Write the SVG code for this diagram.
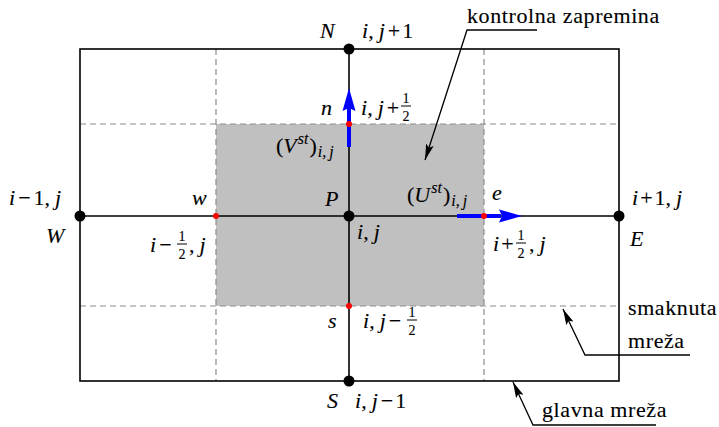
<svg xmlns="http://www.w3.org/2000/svg" width="719" height="427" viewBox="0 0 719 427" font-family="Liberation Serif, Times New Roman, serif">
<defs>
<style>
text{font-family:"Liberation Serif","Times New Roman",serif;font-size:22px;fill:#000;stroke:#000;stroke-width:0.12}
.it{font-style:italic}
.sm{font-size:16px}
.fr{font-size:14px}
.dash{stroke:#8c8c8c;stroke-width:1.2;stroke-dasharray:6 4;fill:none}
.solid{stroke:#000;stroke-width:1.6;fill:none}
.lead{stroke:#000;stroke-width:1.3;fill:none}
.bar{stroke:#000;stroke-width:1}
.blue{fill:#0000ff}
.red{fill:#ff0000}
.dot{fill:#000}
</style>
<marker id="ah" viewBox="0 0 16 8" refX="16" refY="4" markerWidth="16" markerHeight="8" markerUnits="userSpaceOnUse" orient="auto">
<path d="M0,0 L16,4 L0,8 L3,4 z" fill="#000"/>
</marker>
</defs>

<rect x="216" y="124" width="268" height="182" fill="#c0c0c0"/>

<g id="staggered-grid">
<line class="dash" x1="80" y1="124" x2="619" y2="124"/>
<line class="dash" x1="80" y1="306" x2="619" y2="306"/>
<line class="dash" x1="216" y1="49" x2="216" y2="381"/>
<line class="dash" x1="484" y1="49" x2="484" y2="381"/>
</g>

<g id="main-grid">
<rect class="solid" x="80" y="49" width="539" height="332"/>
<line class="solid" x1="80" y1="216" x2="619" y2="216"/>
<line class="solid" x1="349" y1="49" x2="349" y2="381"/>
</g>

<g id="connectors">
<polyline class="lead" points="537,30 467,30 425,160" marker-end="url(#ah)"/>
<polyline class="lead" points="690,355 585,355 563,309" marker-end="url(#ah)"/>
<polyline class="lead" points="656,425 533,425 513,382" marker-end="url(#ah)"/>
</g>

<g id="velocity-V">
<rect class="blue" x="347" y="108" width="4" height="39"/>
<path class="blue" d="M349,88 L355.5,111 L349,108 L342.5,111 z"/>
</g>
<g id="velocity-U">
<rect class="blue" x="457" y="214" width="44" height="4"/>
<path class="blue" d="M522,216 L499,222.5 L502,216 L499,209.5 z"/>
</g>

<g id="face-points">
<circle class="red" cx="349" cy="124" r="3"/>
<circle class="red" cx="349" cy="306" r="3"/>
<circle class="red" cx="216" cy="216" r="3"/>
<circle class="red" cx="484" cy="216" r="3"/>
</g>

<g id="node-N">
<circle class="dot" cx="349" cy="49" r="5.5"/>
<text x="320" y="38" class="it">N</text>
<text x="362" y="38"><tspan class="it">i</tspan>,<tspan class="it" dx="5">j</tspan><tspan dx="3">+</tspan><tspan dx="2">1</tspan></text>
</g>
<g id="node-n">
<text x="321" y="115" class="it">n</text>
<text x="361" y="115"><tspan class="it">i</tspan>,<tspan class="it" dx="5">j</tspan><tspan dx="3">+</tspan></text>
<text x="406" y="103" class="fr" text-anchor="middle">1</text>
<line class="bar" x1="401" y1="106" x2="411" y2="106"/>
<text x="406" y="121" class="fr" text-anchor="middle">2</text>
<text y="153"><tspan x="276">(</tspan><tspan class="it">V</tspan><tspan class="sm it" dy="-9" dx="1">st</tspan><tspan dy="9" dx="1">)</tspan><tspan class="sm it" dy="4" dx="1">i</tspan><tspan class="sm">,</tspan><tspan class="sm it" dx="3">j</tspan></text>
</g>
<g id="node-P">
<circle class="dot" cx="349" cy="216" r="5.5"/>
<text x="325" y="206" class="it">P</text>
<text x="357" y="239"><tspan class="it">i</tspan>,<tspan class="it" dx="5">j</tspan></text>
</g>
<g id="node-w">
<text x="192" y="205" class="it">w</text>
<text x="150" y="252"><tspan class="it">i</tspan><tspan dx="3">−</tspan></text>
<text x="182" y="241" class="fr" text-anchor="middle">1</text>
<line class="bar" x1="177" y1="244" x2="187" y2="244"/>
<text x="182" y="259" class="fr" text-anchor="middle">2</text>
<text x="189" y="252">,<tspan class="it" dx="5">j</tspan></text>
</g>
<g id="node-W">
<circle class="dot" cx="80" cy="216" r="5.5"/>
<text x="9" y="205"><tspan class="it">i</tspan><tspan dx="3">−</tspan><tspan dx="3">1</tspan>,<tspan class="it" dx="5">j</tspan></text>
<text x="46" y="243" class="it">W</text>
</g>
<g id="node-e">
<text y="202"><tspan x="407">(</tspan><tspan class="it">U</tspan><tspan class="sm it" dy="-9" dx="1">st</tspan><tspan dy="9" dx="1">)</tspan><tspan class="sm it" dy="4" dx="1">i</tspan><tspan class="sm">,</tspan><tspan class="sm it" dx="3">j</tspan></text>
<text x="492" y="200" class="it">e</text>
<text x="493" y="251"><tspan class="it">i</tspan><tspan dx="2">+</tspan></text>
<text x="521" y="240" class="fr" text-anchor="middle">1</text>
<line class="bar" x1="516" y1="243" x2="526" y2="243"/>
<text x="521" y="258" class="fr" text-anchor="middle">2</text>
<text x="529" y="251">,<tspan class="it" dx="5">j</tspan></text>
</g>
<g id="node-E">
<circle class="dot" cx="619" cy="216" r="5.5"/>
<text x="632" y="205"><tspan class="it">i</tspan><tspan dx="2">+</tspan><tspan dx="2">1</tspan>,<tspan class="it" dx="5">j</tspan></text>
<text x="630" y="246" class="it">E</text>
</g>
<g id="node-s">
<text x="328" y="328" class="it">s</text>
<text x="363" y="328"><tspan class="it">i</tspan>,<tspan class="it" dx="5">j</tspan><tspan dx="3">−</tspan></text>
<text x="412" y="317" class="fr" text-anchor="middle">1</text>
<line class="bar" x1="407" y1="320" x2="417" y2="320"/>
<text x="412" y="335" class="fr" text-anchor="middle">2</text>
</g>
<g id="node-S">
<circle class="dot" cx="349" cy="381" r="5.5"/>
<text x="327" y="408" class="it">S</text>
<text x="355" y="408"><tspan class="it">i</tspan>,<tspan class="it" dx="5">j</tspan><tspan dx="3">−</tspan><tspan dx="2">1</tspan></text>
</g>

<g id="label-kontrolna">
<text x="467" y="23" letter-spacing="0.6">kontrolna zapremina</text>
</g>
<g id="label-smaknuta">
<text x="628" y="315" letter-spacing="0.6">smaknuta</text>
<text x="628" y="348" letter-spacing="0.6">mreža</text>
</g>
<g id="label-glavna">
<text x="542" y="417" letter-spacing="0.6">glavna mreža</text>
</g>
</svg>
